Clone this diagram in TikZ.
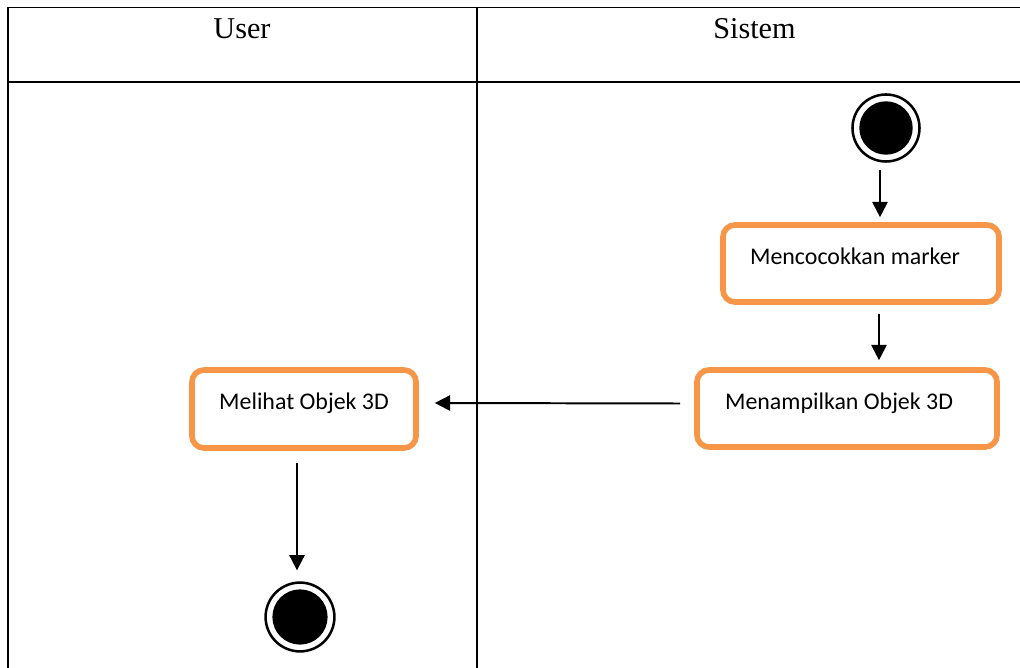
\documentclass[tikz,border=0pt]{standalone}
\usepackage{fontspec}
\setmainfont{Liberation Serif}
\newfontfamily\boxfont{Carlito}
\usetikzlibrary{arrows.meta}
\definecolor{actorange}{HTML}{F79646}
\tikzset{
  lane/.style={line width=1.4pt},
  lanehead/.style={
    anchor=base,
    inner sep=0pt,
    font=\fontsize{21.5}{25}\selectfont
  },
  actbox/.style={
    draw=actorange,
    line width=4pt,
    rounded corners=0.3cm,
    inner sep=0pt,
    text height=12pt,
    text depth=11pt,
    font=\boxfont\fontsize{17}{20}\selectfont
  },
  ring/.style={
    circle,
    draw,
    line width=1.8pt,
    inner sep=0pt,
    minimum size=#1,
    path picture={\fill (path picture bounding box.center) circle (#1/2-0.17cm);}
  },
  flow/.style={line width=1.4pt, -{Triangle[length=0.38cm,width=0.38cm]}}
}
\begin{document}
\begin{tikzpicture}[x=0.025cm, y=-0.025cm]
  \useasboundingbox (0,0) rectangle (1020,668);
  \draw[lane] (8.3,668) -- (8.3,7.5) -- (1020,7.5);
  \draw[lane] (8.3,82) -- (1020,82);
  \draw[lane] (476.7,7.5) -- (476.7,668);
  \node[lanehead] (user) at (242,38.5) {User};
  \node[lanehead] (sistem) at (754.5,38.5) {Sistem};

  \node[ring=1.675cm] (start) at (886,128) {};
  \node[actbox, minimum width=6.9cm, minimum height=1.925cm] (match) at (861,263.5) {Mencocokkan marker\rule{8.5pt}{0pt}};
  \node[actbox, minimum width=7.5cm, minimum height=1.925cm] (show) at (847,408.5) {Menampilkan Objek 3D\rule{11.3pt}{0pt}};
  \node[actbox, minimum width=5.6cm, minimum height=1.95cm] (view) at (304,409) {Melihat Objek 3D};
  \node[ring=1.72cm] (end) at (300,617) {};

  \draw[flow] ([shift={(-6,7)}]start.south) -- ([shift={(19,-5)}]match.north);
  \draw[flow] ([shift={(18,9)}]match.south) -- ([shift={(32,-7)}]show.north);
  \draw[flow] ([shift={(-14,-5)}]show.west) -- ([shift={(16,-6)}]view.east);
  \draw[flow] ([shift={(-7,12)}]view.south) -- ([shift={(-3,-11)}]end.north);
\end{tikzpicture}
\end{document}
